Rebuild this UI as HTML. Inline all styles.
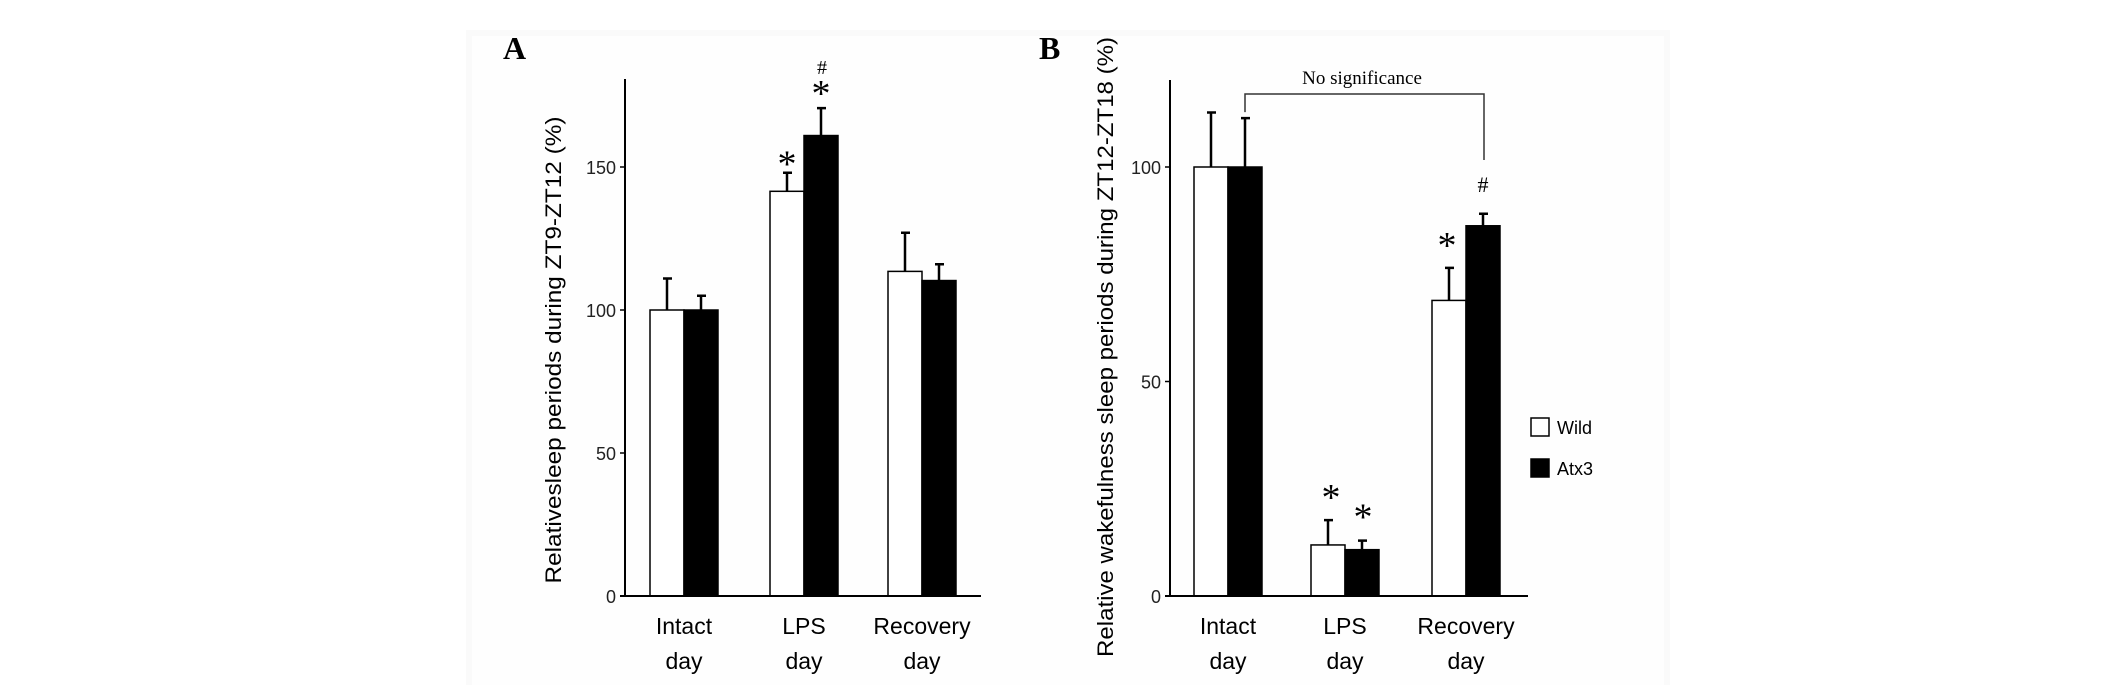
<!DOCTYPE html>
<html><head><meta charset="utf-8"><style>
html,body{margin:0;padding:0;background:#fff;}
svg{display:block;}
</style></head><body>
<svg id="fig" width="2126" height="685" viewBox="0 0 2126 685" xmlns="http://www.w3.org/2000/svg">
<rect x="466" y="30" width="1204" height="655" fill="#fafafa"/>
<rect x="472" y="36" width="1192" height="649" fill="#fefefe"/>
<g id="chartA"></g>
<g id="chartB"></g>
</svg>
<script>
const categories = ["Intact|day", "LPS|day", "Recovery|day"];
const seriesNames = ["Wild", "Atx3"];
const aWild = [100, 141.5, 113.5];
const aWildErr = [11, 6.5, 13.5];
const aAtx = [100, 161, 110.3];
const aAtxErr = [5, 9.6, 5.7];
const aTicks = [0, 50, 100, 150];
const bWild = [100, 11.9, 68.9];
const bWildErr = [12.7, 5.8, 7.6];
const bAtx = [100, 10.8, 86.3];
const bAtxErr = [11.4, 2.1, 2.8];
const bTicks = [0, 50, 100];

const NS = "http://www.w3.org/2000/svg";
function mk(parent, tag, attrs, text) {
  const e = document.createElementNS(NS, tag);
  for (const k in attrs) e.setAttribute(k, attrs[k]);
  if (text !== undefined) e.textContent = text;
  parent.appendChild(e);
  return e;
}
const SANS = '"Liberation Sans", "DejaVu Sans", sans-serif';
const SERIF = '"Liberation Serif", serif';

function drawChart(g, cfg) {
  const y = v => cfg.y0 - (v - 0) * cfg.ppu;
  for (let i = 0; i < categories.length; i++) {
    const xc = cfg.centers[i];
    const sets = [[cfg.wild, cfg.wildErr, "#fff", -cfg.bw], [cfg.atx, cfg.atxErr, "#000", 0]];
    sets.forEach((s, j) => {
      const v = s[0][i], e = s[1][i];
      const bx = xc + s[3];
      const err = mk(g, "path", {d: `M${bx + cfg.bw/2} ${y(v)} V${y(v + e)} M${bx + cfg.bw/2 - 4} ${y(v + e)} H${bx + cfg.bw/2 + 5}`, stroke: "#000", "stroke-width": 2.5, fill: "none"});
      
      
      const r = mk(g, "rect", {x: bx, y: y(v), width: cfg.bw, height: y(0) - y(v), fill: s[2], stroke: "#000", "stroke-width": 1.5});
      
      
    });
    const parts = categories[i].split('|');
    const t1 = mk(g, "text", {x: xc, y: cfg.y0 + 38, "text-anchor": "middle", "font-family": SANS, "font-size": 23}, parts[0]);
    
    
    const t2 = mk(g, "text", {x: xc, y: cfg.y0 + 73, "text-anchor": "middle", "font-family": SANS, "font-size": 23}, parts[1]);
    
    
  }
  const ax = mk(g, "path", {d: `M${cfg.ax} ${cfg.top} V${cfg.y0} M${cfg.ax - 5} ${cfg.y0} H${cfg.xEnd}`, stroke: "#000", "stroke-width": 2, fill: "none"});
  
  
  cfg.ticks.forEach(t => {
    const tk = mk(g, "line", {x1: cfg.ax - 5, x2: cfg.ax, y1: y(t), y2: y(t), stroke: "#000", "stroke-width": 1.5});
    
    
    const tl = mk(g, "text", {x: cfg.ax - 9, y: y(t) + 7, "text-anchor": "end", "font-family": SANS, "font-size": 18, fill: "#222"}, String(t));
    
    
  });
  const yt = mk(g, "text", {x: 0, y: 0, transform: `translate(${cfg.titleX},${cfg.titleY}) rotate(-90)`, "text-anchor": "middle", "font-family": SANS, "font-size": cfg.titleSize, textLength: cfg.titleLen, lengthAdjust: "spacingAndGlyphs"}, cfg.title);
  
  
  const pl = mk(g, "text", {x: cfg.labelX, y: 59, "font-family": SERIF, "font-weight": "bold", "font-size": 32}, cfg.label);
  
  
  return y;
}

const gA = document.getElementById("chartA");
const yA = drawChart(gA, {y0: 596, ppu: 2.86, top: 79, ax: 625, xEnd: 981, bw: 34,
  centers: [684, 804, 922], wild: aWild, wildErr: aWildErr, atx: aAtx, atxErr: aAtxErr,
  ticks: aTicks, title: "Relativesleep periods during ZT9-ZT12 (%)", titleX: 561, titleY: 350, titleSize: 22, titleLen: 467, label: "A", labelX: 503});
const gB = document.getElementById("chartB");
const yB = drawChart(gB, {y0: 596, ppu: 4.29, top: 80, ax: 1170, xEnd: 1528, bw: 34,
  centers: [1228, 1345, 1466], wild: bWild, wildErr: bWildErr, atx: bAtx, atxErr: bAtxErr,
  ticks: bTicks, title: "Relative wakefulness sleep periods during ZT12-ZT18 (%)", titleX: 1113, titleY: 347, titleSize: 22, titleLen: 620, label: "B", labelX: 1039});

function mark(g, x, yv, ch, size, name) {
  const t = mk(g, "text", {x: x, y: yv, "text-anchor": "middle", "font-family": SERIF, "font-size": size}, ch);
  
  
}
mark(gA, 787, yA(aWild[1] + aWildErr[1]) + 4, "*", 38, "significance-star");
mark(gA, 821, yA(aAtx[1] + aAtxErr[1]) - 2, "*", 38, "significance-star");
mark(gA, 822, yA(aAtx[1] + aAtxErr[1]) - 34, "#", 20, "significance-hash");
mark(gB, 1331, yB(bWild[1] + bWildErr[1]) - 10, "*", 38, "significance-star");
mark(gB, 1363, yB(bAtx[1] + bAtxErr[1]) - 11, "*", 38, "significance-star");
mark(gB, 1447, yB(bWild[2] + bWildErr[2]) - 10, "*", 38, "significance-star");
mark(gB, 1483, yB(bAtx[2] + bAtxErr[2]) - 22, "#", 22, "significance-hash");
const br = mk(gB, "path", {d: `M1245 ${yB(bAtx[0] + bAtxErr[0]) - 6} V94 H1484 V160`, stroke: "#333", "stroke-width": 1.5, fill: "none"});


const ns = mk(gB, "text", {x: 1362, y: 84, "text-anchor": "middle", "font-family": SERIF, "font-size": 19}, "No significance");


const lg = mk(gB, "g", {});


seriesNames.forEach((n, i) => {
  const yy = 418 + i * 41;
  const bx = mk(lg, "rect", {x: 1531, y: yy, width: 18, height: 18, fill: i ? "#000" : "#fff", stroke: "#000", "stroke-width": 1.5});
  
  
  const tx = mk(lg, "text", {x: 1557, y: yy + 16, "font-family": SANS, "font-size": 18}, n);
  
  
});
</script>
</body></html>
